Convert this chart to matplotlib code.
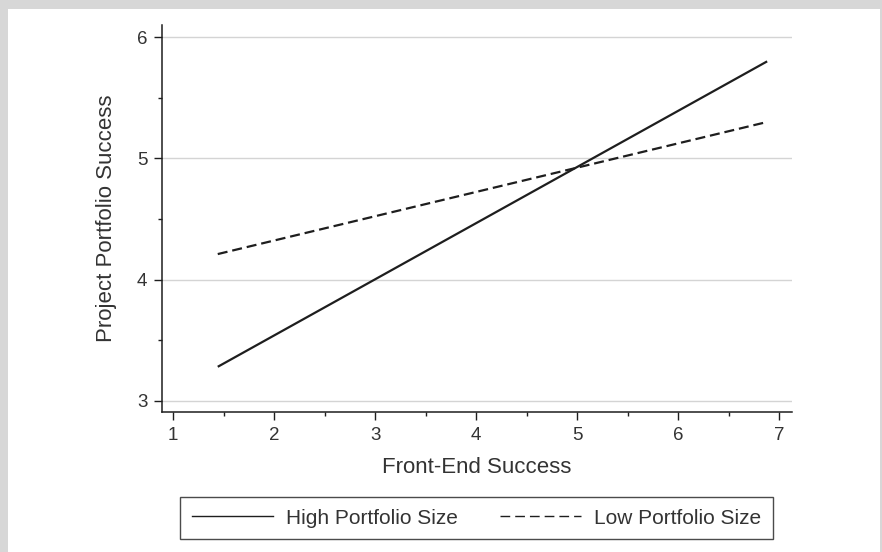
import numpy as np
import matplotlib
matplotlib.use('Agg')
import matplotlib.pyplot as plt
from matplotlib.lines import Line2D
from matplotlib.patches import Rectangle

plt.rcParams['font.family'] = ['Liberation Sans', 'DejaVu Sans']

# data
front_end = [1.44, 6.88]
high_size = [3.28, 5.80]
low_size = [4.21, 5.30]
x_ticks = [1, 2, 3, 4, 5, 6, 7]
y_ticks = [3, 4, 5, 6]
labels = ['High Portfolio Size', 'Low Portfolio Size']

txt = '#333333'
ink = '#1e1e1e'

fig = plt.figure(figsize=(8.82, 5.52), dpi=100, facecolor='#d7d7d7')
# white panel inside the grey frame
fig.patches.append(Rectangle((8/882., 0), (880-8)/882., (552-9)/552.,
                             transform=fig.transFigure, facecolor='white',
                             edgecolor='none', zorder=-10))

ax = fig.add_axes([162/882., 1-412/552., (792-162)/882., (412-25)/552.])
ax.set_facecolor('none')
ax.set_zorder(2)

ax.plot(front_end, high_size, color=ink, lw=1.6, solid_capstyle='butt')
ax.plot(front_end, low_size, color=ink, lw=1.6, dashes=(4.5, 2.2))

ax.set_xlim(0.888, 7.126)
ax.set_ylim(2.907, 6.10)
ax.set_xticks(x_ticks)
ax.set_yticks(y_ticks)
ax.set_xticks(np.arange(1.5, 7, 1.0), minor=True)
ax.set_yticks(np.arange(3.5, 6, 1.0), minor=True)

ax.grid(True, axis='y', color='#d4d4d4', lw=1.0)
ax.set_axisbelow(True)

for s in ['top', 'right']:
    ax.spines[s].set_visible(False)
for s in ['left', 'bottom']:
    ax.spines[s].set_color(ink)
    ax.spines[s].set_linewidth(1.1)

ax.tick_params(which='major', length=5.5, width=1.0, color=ink,
               labelsize=13.5, labelcolor=txt, pad=5)
ax.tick_params(which='minor', length=3, width=1.0, color=ink)

ax.set_xlabel('Front-End Success', fontsize=16, color=txt, labelpad=10)
ax.set_ylabel('Project Portfolio Success', fontsize=16, color=txt, labelpad=14)

handles = [Line2D([0], [0], color=ink, lw=1.0),
           Line2D([0], [0], color=ink, lw=1.0, dashes=(7, 3.6))]
leg = fig.legend(handles, labels, loc='center', bbox_to_anchor=(476.5/882., 1-518/552.),
                 ncol=2, fontsize=15, frameon=True, fancybox=False,
                 handlelength=3.9, handletextpad=0.63, columnspacing=2.0,
                 borderpad=0.55, labelcolor=txt)
leg.get_frame().set_edgecolor(ink)
leg.get_frame().set_linewidth(1.0)
leg.set_zorder(3)

fig.savefig('out.png', dpi=100, facecolor=fig.get_facecolor())
